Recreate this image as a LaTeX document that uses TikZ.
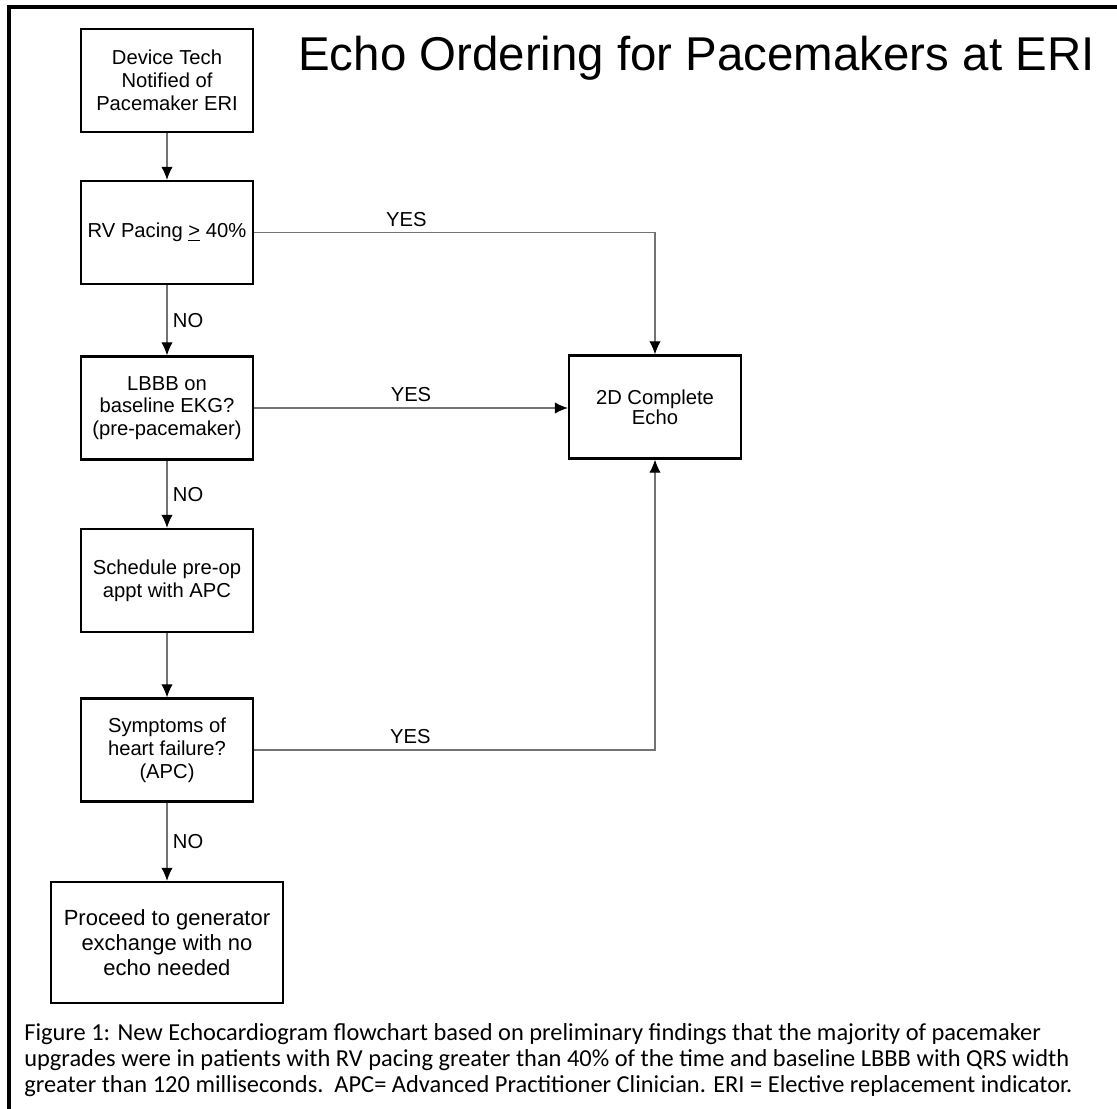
\documentclass[tikz,border=0pt]{standalone}
\usepackage{fontspec}
\setmainfont{Liberation Sans}
\newfontfamily\capfont{Carlito}
\usepackage{tikz}
\usetikzlibrary{arrows.meta}

\begin{document}
\begin{tikzpicture}[x=0.02cm, y=-0.02cm]
			\tikzset{block/.style={shape = rectangle, draw, line width = 1.2pt, minimum width = 3.44cm, minimum height = 2.06cm, align = center, inner sep = 1pt, font = \fontsize{11.5}{13}\selectfont}}
			\tikzset{edge/.style={draw = black!55, line width = 0.75pt, -{Latex[length = 7.5pt, width = 6.5pt, color = black]}}}
			\tikzset{answer/.style={font = \fontsize{11.5}{13}\selectfont, inner sep = 3pt}}
			\useasboundingbox (0, 0) rectangle (1117, 1109);
			\clip (0, 0) rectangle (1117, 1109);
			\draw[line width = 2.2pt] (9, 7) rectangle (1140, 1140);
			%title
			\node[anchor = base west, inner sep = 0pt, font = \fontsize{27}{32}\selectfont] (title) at (298, 70) {Echo Ordering for Pacemakers at ERI};
			%vertices
			\node[block] (dev) at (167, 80.5) {Device Tech\\Notified of\\Pacemaker ERI};
			\node[block] (rv) at (167, 232.5) {RV Pacing \underline{>} 40\%};
			\node[block] (lbbb) at (167, 408) {LBBB on\\baseline EKG?\\(pre-pacemaker)};
			\node[block] (sched) at (167, 580.5) {Schedule pre-op\\appt with APC};
			\node[block] (symp) at (167, 750) {Symptoms of\\heart failure?\\(APC)};
			\node[block, minimum width = 4.64cm, minimum height = 2.42cm, font = \fontsize{12.5}{14.2}\selectfont] (proc) at (167, 942.5) {Proceed to generator\\exchange with no\\echo needed};
			\node[block, font = \fontsize{11.5}{11.5}\selectfont] (echo) at (655, 407) {2D Complete\\Echo};
			%edges
			\draw[edge] (dev) -- (rv);
			\draw[edge] (rv) -- node[answer, midway, right]{NO} (lbbb);
			\draw[edge] (lbbb) -- node[answer, midway, right]{NO} (sched);
			\draw[edge] (sched) -- (symp);
			\draw[edge] (symp) -- node[answer, midway, right]{NO} (proc);
			\draw[edge] (rv.east) -| node[answer, pos = 0.19, above]{YES} (echo.north);
			\draw[edge] (lbbb.east) -- node[answer, midway, above]{YES} (lbbb.east -| echo.west);
			\draw[edge] (symp.east) -| node[answer, pos = 0.195, above]{YES} (echo.south);
			%caption
			\node[anchor = north west, align = left, inner sep = 0pt, font = \capfont\fontsize{13.9}{14.8}\selectfont] (caption) at (24, 1023) {Figure 1: New Echocardiogram flowchart based on preliminary findings that the majority of pacemaker\\upgrades were in patients with RV pacing greater than 40\% of the time and baseline LBBB with QRS width\\greater than 120 milliseconds.\ \ APC= Advanced Practitioner Clinician. ERI = Elective replacement indicator.};
		\end{tikzpicture}
\end{document}
